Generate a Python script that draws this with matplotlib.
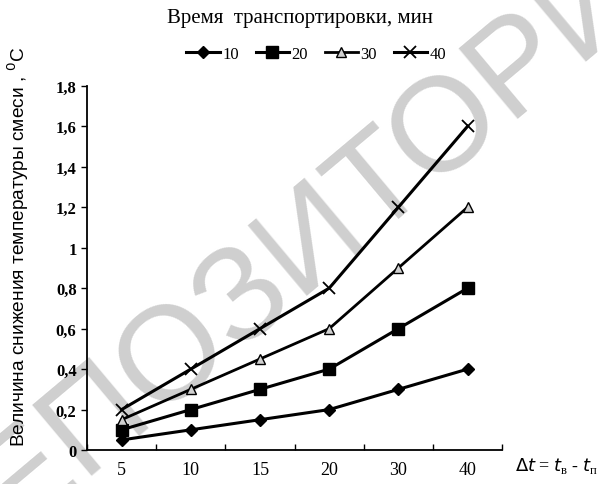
import matplotlib
matplotlib.use("Agg")
import matplotlib.pyplot as plt

categories = ["5", "10", "15", "20", "30", "40"]
series_names = ["10", "20", "30", "40"]
s10 = [0.05, 0.10, 0.15, 0.20, 0.30, 0.40]
s20 = [0.10, 0.20, 0.30, 0.40, 0.60, 0.80]
s30 = [0.15, 0.30, 0.45, 0.60, 0.90, 1.20]
s40 = [0.20, 0.40, 0.60, 0.80, 1.20, 1.60]
yticks = [0, 0.2, 0.4, 0.6, 0.8, 1, 1.2, 1.4, 1.6, 1.8]
ytick_labels = ["0", "0,2", "0,4", "0,6", "0,8", "1", "1,2", "1,4", "1,6", "1,8"]

serif = "Liberation Serif"

fig = plt.figure(figsize=(6.0, 4.85), dpi=100)
ax = fig.add_axes([0.145, 0.070, 0.692, 0.751])

# watermark (behind everything)
fig.text(0.52, 0.51, "РЕПОЗИТОРИЙ", fontsize=96, color="#cfcfcf",
         rotation=40, ha="center", va="center", family="Liberation Sans",
         zorder=-1)
ax.set_facecolor("none")

x = list(range(len(categories)))
styles = [
    dict(marker="D", markersize=6, markerfacecolor="black", markeredgecolor="black", lw=2.2),
    dict(marker="s", markersize=8, markerfacecolor="black", markeredgecolor="black", lw=2.2),
    dict(marker="^", markersize=7, markerfacecolor="#d0d0d0", markeredgecolor="black", lw=2.0),
    dict(marker="x", markersize=9, markeredgewidth=1.3, color="black", lw=2.2),
]
data = [s10, s20, s30, s40]
handles = []
for name, vals, st in zip(series_names, data, styles):
    st = dict(st)
    st.setdefault("color", "black")
    h, = ax.plot(x, vals, label=name, zorder=3, clip_on=False, **st)
    handles.append(h)

ax.set_xlim(-0.5, len(categories) - 0.5)
ax.set_ylim(0, 1.8)
ax.spines["top"].set_visible(False)
ax.spines["right"].set_visible(False)
for sp in ("left", "bottom"):
    ax.spines[sp].set_linewidth(1.3)
    ax.spines[sp].set_color("black")

ax.set_xticks(x)
ax.set_xticklabels(categories, family=serif, fontsize=13)
ax.set_xticks([i - 0.5 for i in range(len(categories) + 1)], minor=True)
ax.tick_params(axis="x", which="major", length=0, pad=8)
ax.tick_params(axis="x", which="minor", length=4, direction="in", width=1)
ax.set_yticks(yticks)
ax.set_yticklabels(ytick_labels, family=serif, fontsize=12, fontweight="bold")
ax.tick_params(axis="y", length=4, direction="out", width=1)

fig.text(0.5, 0.962, "Время  транспортировки, мин", ha="center", va="center",
         family=serif, fontsize=15)
ax.set_ylabel("Величина снижения температуры смеси , $^{0}$С",
              family="Liberation Sans", fontsize=13.8)
ax.yaxis.set_label_coords(-0.135, 0.56)
fig.text(0.858, 0.040, r"$\Delta t$ = $t_{\mathregular{в}}$ - $t_{\mathregular{п}}$",
         ha="left", va="center", family=serif, fontsize=13)

fig.legend(handles=handles, labels=series_names, loc="center",
           bbox_to_anchor=(0.527, 0.887), ncol=4, frameon=False,
           prop={"family": serif, "size": 12}, handlelength=2.0,
           handletextpad=0.15, columnspacing=1.0)

fig.savefig("out.png", dpi=100)
